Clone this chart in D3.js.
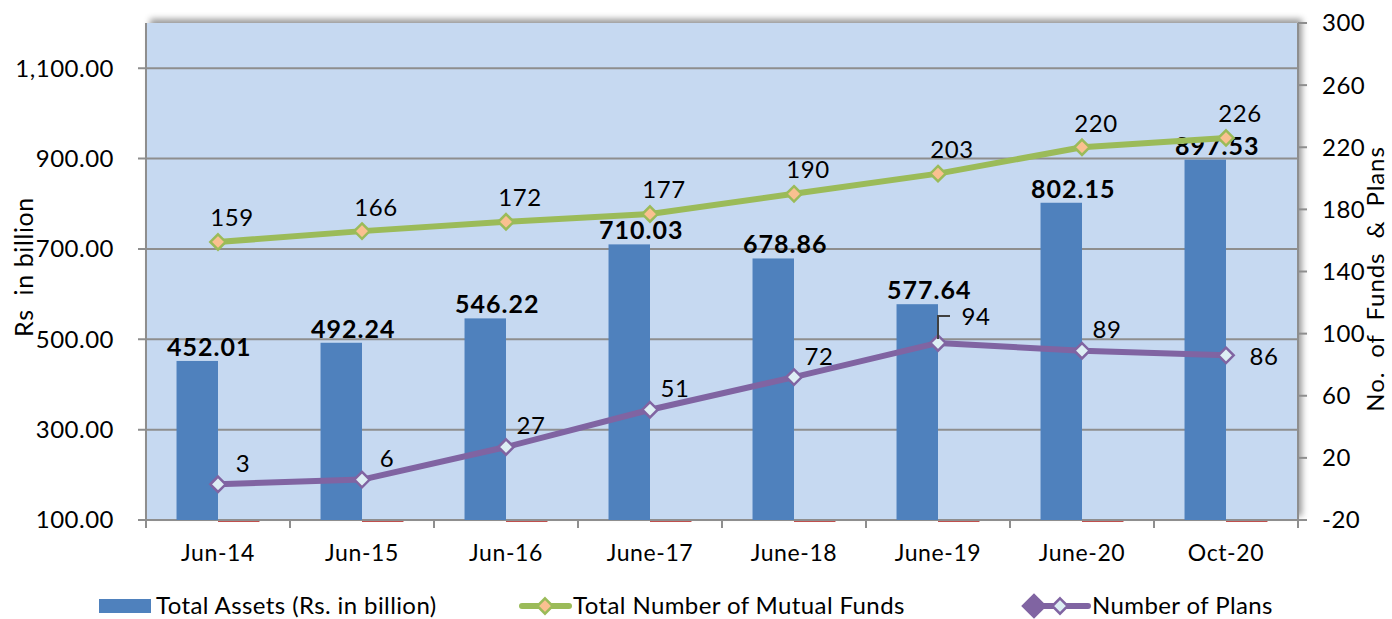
<!DOCTYPE html>
<html>
<head>
<meta charset="utf-8">
<script src="https://cdn.jsdelivr.net/npm/d3@7"></script>
<style>
  body { margin: 0; background: #fff; }
  text { font-family: Lato, "Noto Sans", sans-serif; fill: #000; }
</style>
</head>
<body>
<svg id="chart" width="1392" height="619"></svg>
<script>
// 資料
const categories = ["Jun-14", "Jun-15", "Jun-16", "June-17", "June-18", "June-19", "June-20", "Oct-20"];
const totalAssets = [452.01, 492.24, 546.22, 710.03, 678.86, 577.64, 802.15, 897.53];
const totalFunds = [159, 166, 172, 177, 190, 203, 220, 226];
const numPlans = [3, 6, 27, 51, 72, 94, 89, 86];
const leftTicks = [100, 300, 500, 700, 900, 1100];
const rightTicks = [-20, 20, 60, 100, 140, 180, 220, 260, 300];

const plot = { left: 146, right: 1298, top: 23, bottom: 520 };

const svg = d3.select("#chart");

// 陰影
const defs = svg.append("defs");
defs.append("filter")
  .attr("id", "shadow")
  .attr("x", "-5%").attr("y", "-10%").attr("width", "110%").attr("height", "120%")
  .append("feDropShadow")
  .attr("dx", 4).attr("dy", -4).attr("stdDeviation", 3)
  .attr("flood-color", "#000").attr("flood-opacity", 0.4);

const x = d3.scaleBand().domain(categories).range([plot.left, plot.right]);
const yLeft = d3.scaleLinear().domain([100, 1200]).range([plot.bottom, plot.top]);
const yRight = d3.scaleLinear().domain([-20, 300]).range([plot.bottom, plot.top]);

const barW = x.bandwidth() * 0.288;
const barOff = (x.bandwidth() - 2 * barW) / 2;

// 繪圖區背景
svg.append("rect")
  .attr("x", plot.left).attr("y", plot.top)
  .attr("width", plot.right - plot.left).attr("height", plot.bottom - plot.top)
  .attr("fill", "#C6D9F1")
  .attr("filter", "url(#shadow)");

// 格線
svg.append("g")
  .selectAll("line")
  .data(leftTicks)
  .join("line")
  .attr("x1", plot.left - 8).attr("x2", plot.right)
  .attr("y1", (d) => yLeft(d)).attr("y2", (d) => yLeft(d))
  .attr("stroke", "#8E8E8E").attr("stroke-width", 2);

// 左軸
svg.append("line")
  .attr("x1", plot.left).attr("x2", plot.left)
  .attr("y1", plot.top).attr("y2", plot.bottom + 8)
  .attr("stroke", "#8E8E8E").attr("stroke-width", 2);

svg.append("g")
  .selectAll("text")
  .data(leftTicks)
  .join("text")
  .attr("x", 114).attr("y", (d) => yLeft(d))
  .attr("dy", "0.35em")
  .attr("text-anchor", "end")
  .attr("font-size", 24)
  .attr("letter-spacing", 0.5)
  .text((d) => d3.format(",.2f")(d));

// 右軸
svg.append("line")
  .attr("x1", plot.right).attr("x2", plot.right)
  .attr("y1", plot.top).attr("y2", plot.bottom)
  .attr("stroke", "#8E8E8E").attr("stroke-width", 2);

const rt = svg.append("g");
rt.selectAll("line")
  .data(rightTicks)
  .join("line")
  .attr("x1", plot.right).attr("x2", plot.right + 9)
  .attr("y1", (d) => yRight(d)).attr("y2", (d) => yRight(d))
  .attr("stroke", "#8E8E8E").attr("stroke-width", 2);
rt.selectAll("text")
  .data(rightTicks)
  .join("text")
  .attr("x", 1322).attr("y", (d) => yRight(d))
  .attr("dy", "0.35em")
  .attr("font-size", 24)
  .attr("letter-spacing", 0.5)
  .text((d) => d);

// 底軸
svg.append("line")
  .attr("x1", plot.left - 8).attr("x2", plot.right + 9)
  .attr("y1", plot.bottom).attr("y2", plot.bottom)
  .attr("stroke", "#8E8E8E").attr("stroke-width", 2);

const bandEdges = categories.map((c) => x(c)).concat([plot.right]);
svg.append("g")
  .selectAll("line")
  .data(bandEdges)
  .join("line")
  .attr("x1", (d) => d).attr("x2", (d) => d)
  .attr("y1", plot.bottom).attr("y2", plot.bottom + 8)
  .attr("stroke", "#8E8E8E").attr("stroke-width", 2);

svg.append("g")
  .selectAll("text")
  .data(categories)
  .join("text")
  .attr("x", (d) => x(d) + x.bandwidth() / 2)
  .attr("y", 553)
  .attr("dy", "0.35em")
  .attr("text-anchor", "middle")
  .attr("font-size", 23)
  .attr("letter-spacing", 0.6)
  .text((d) => d);

// 長條
const barData = categories.map((c, i) => ({ c, v: totalAssets[i] }));
svg.append("g")
  .selectAll("rect")
  .data(barData)
  .join("rect")
  .attr("x", (d) => x(d.c) + barOff)
  .attr("y", (d) => yLeft(d.v))
  .attr("width", barW)
  .attr("height", (d) => yLeft(100) - yLeft(d.v))
  .attr("fill", "#4F81BD");

// 空白系列（底線）
svg.append("g")
  .selectAll("line")
  .data(categories)
  .join("line")
  .attr("x1", (d) => x(d) + barOff + barW)
  .attr("x2", (d) => x(d) + barOff + 2 * barW)
  .attr("y1", plot.bottom + 1.5).attr("y2", plot.bottom + 1.5)
  .attr("stroke", "#C0504D").attr("stroke-width", 1);

svg.append("g")
  .selectAll("text")
  .data(barData)
  .join("text")
  .attr("x", (d) => x(d.c) + barOff + barW / 2 + 12)
  .attr("y", (d) => yLeft(d.v) - 5)
  .attr("text-anchor", "middle")
  .attr("font-size", 25)
  .attr("font-weight", "bold")
  .attr("letter-spacing", 1)
  .text((d) => d3.format(".2f")(d.v));

// 折線
const cx = (c) => x(c) + x.bandwidth() / 2;
const diamond = d3.symbol().type(d3.symbolDiamond2).size(150);

function drawLine(values, color, markerFill) {
  const pts = categories.map((c, i) => [cx(c), yRight(values[i])]);
  svg.append("path")
    .attr("d", d3.line()(pts))
    .attr("fill", "none")
    .attr("stroke", color)
    .attr("stroke-width", 6)
    .attr("stroke-linejoin", "round");
  svg.append("g")
    .selectAll("path")
    .data(pts)
    .join("path")
    .attr("transform", (d) => `translate(${d[0]},${d[1]})`)
    .attr("d", diamond)
    .attr("fill", markerFill)
    .attr("stroke", color)
    .attr("stroke-width", 2.5);
  return pts;
}

const fundPts = drawLine(totalFunds, "#9BBB59", "#FAC090");
const planPts = drawLine(numPlans, "#8064A2", "#DDEEF4");

svg.append("g")
  .selectAll("text")
  .data(fundPts)
  .join("text")
  .attr("x", (d) => d[0] + 14)
  .attr("y", (d) => d[1] - 24)
  .attr("dy", "0.35em")
  .attr("text-anchor", "middle")
  .attr("font-size", 24)
  .attr("letter-spacing", 0.6)
  .text((d, i) => totalFunds[i]);

const last = numPlans.length - 1;
const peak = numPlans.indexOf(d3.max(numPlans));
svg.append("g")
  .selectAll("text")
  .data(planPts)
  .join("text")
  .attr("x", (d, i) => (i === last ? d[0] + 38 : i === peak ? d[0] + 38 : d[0] + 25))
  .attr("y", (d, i) => (i === last ? d[1] + 1 : i === peak ? d[1] - 26 : d[1] - 21))
  .attr("dy", "0.35em")
  .attr("text-anchor", "middle")
  .attr("font-size", 24)
  .attr("letter-spacing", 0.6)
  .text((d, i) => numPlans[i]);

// 94 的引導線
const pk = planPts[peak];
svg.append("path")
  .attr("d", `M${pk[0]},${pk[1] - 4}V${pk[1] - 27}H${pk[0] + 12}`)
  .attr("fill", "none")
  .attr("stroke", "#404040")
  .attr("stroke-width", 2);

// 軸標題
svg.append("text")
  .attr("transform", "translate(24,267) rotate(-90)")
  .attr("text-anchor", "middle")
  .attr("dy", "0.35em")
  .attr("font-size", 25)
  .attr("letter-spacing", 0.6)
  .attr("xml:space", "preserve")
  .text("Rs  in billion");

svg.append("text")
  .attr("transform", "translate(1376,279) rotate(-90)")
  .attr("text-anchor", "middle")
  .attr("dy", "0.35em")
  .attr("font-size", 24)
  .attr("letter-spacing", 0.9)
  .attr("xml:space", "preserve")
  .text("No.  of  Funds  &  Plans");

// 圖例
const legY = 606;
const legText = (xPos, label) =>
  svg.append("text")
    .attr("x", xPos).attr("y", legY).attr("dy", "0.35em")
    .attr("font-size", 24)
    .attr("letter-spacing", 0.4)
    .text(label);

svg.append("rect")
  .attr("x", 99).attr("y", legY - 7).attr("width", 52).attr("height", 14)
  .attr("fill", "#4F81BD");
legText(156, "Total Assets (Rs. in billion)");

svg.append("line")
  .attr("x1", 522).attr("x2", 569).attr("y1", legY).attr("y2", legY)
  .attr("stroke", "#9BBB59").attr("stroke-width", 6).attr("stroke-linecap", "round");
svg.append("path")
  .attr("transform", `translate(545,${legY})`)
  .attr("d", diamond)
  .attr("fill", "#FAC090").attr("stroke", "#9BBB59").attr("stroke-width", 2.5);
legText(573, "Total Number of Mutual Funds");

svg.append("line")
  .attr("x1", 1030).attr("x2", 1088).attr("y1", legY).attr("y2", legY)
  .attr("stroke", "#8064A2").attr("stroke-width", 6).attr("stroke-linecap", "round");
svg.append("path")
  .attr("transform", `translate(1034,${legY})`)
  .attr("d", d3.symbol().type(d3.symbolDiamond2).size(420))
  .attr("fill", "#8064A2");
svg.append("path")
  .attr("transform", `translate(1060,${legY})`)
  .attr("d", diamond)
  .attr("fill", "#DDEEF4").attr("stroke", "#8064A2").attr("stroke-width", 2.5);
legText(1092, "Number of Plans");
</script>
</body>
</html>
